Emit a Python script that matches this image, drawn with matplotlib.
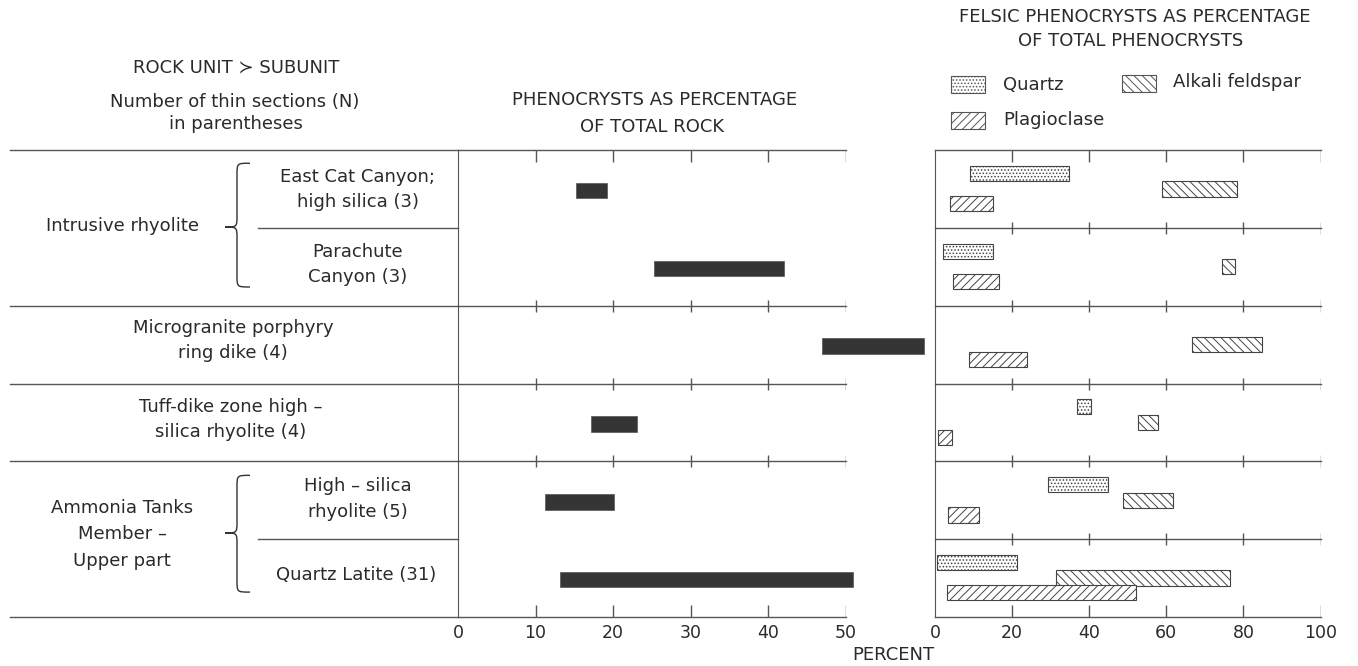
import numpy as np
import matplotlib
matplotlib.use("Agg")
import matplotlib.pyplot as plt
from matplotlib.patches import Rectangle, PathPatch
from matplotlib.path import Path

plt.rcParams['font.family'] = ['DejaVu Sans']
plt.rcParams['hatch.linewidth'] = 0.7

# filas (de arriba hacia abajo)
subunidades = [["East Cat Canyon;", "high silica (3)"],
               ["Parachute", "Canyon (3)"],
               ["Microgranite porphyry", "ring dike (4)"],
               ["Tuff-dike zone high \u2013", "silica rhyolite (4)"],
               ["High \u2013 silica", "rhyolite (5)"],
               ["Quartz Latite (31)"]]
unidades = ["Intrusive rhyolite", "Ammonia Tanks\nMember \u2013\nUpper part"]

# fenocristales como % de roca total (rango)
roca_min = [15.2, 25.2, 46.9, 17.1, 11.2, 13.1]
roca_max = [19.2, 42.0, 60.1, 23.1, 20.1, 50.9]

# fenocristales felsicos como % de fenocristales totales
cuarzo_min = [9.1, 2.2, np.nan, 36.8, 29.4, 0.4]
cuarzo_max = [34.8, 15.1, np.nan, 40.4, 44.8, 21.2]
alcali_min = [59.0, 74.5, 66.7, 52.7, 48.7, 31.5]
alcali_max = [78.3, 77.8, 84.8, 57.8, 61.7, 76.5]
plagio_min = [3.9, 4.7, 8.7, 0.9, 3.5, 3.2]
plagio_max = [15.1, 16.6, 23.8, 4.5, 11.4, 52.1]

ticks_roca = [0, 10, 20, 30, 40, 50]
ticks_felsic = [0, 20, 40, 60, 80, 100]

W, H = 1358, 666
fig = plt.figure(figsize=(W / 100, H / 100), dpi=100)

top_px, bot_px = 150, 617
b = (H - bot_px) / H
h = (bot_px - top_px) / H
row_px = (bot_px - top_px) / 6.0
gris = '#555555'
tinta = '#2a2a2a'
lw = 1.0
fs = 13

# capa de anotaciones en pixeles
ann = fig.add_axes([0, 0, 1, 1])
ann.set_xlim(0, W)
ann.set_ylim(H, 0)
ann.axis('off')
ann.patch.set_alpha(0)

ann.text(236, 67, "ROCK UNIT \u227B SUBUNIT", ha='center', va='center', fontsize=fs, color=tinta)
ann.text(235, 102, "Number of thin sections (N)", ha='center', va='center', fontsize=fs, color=tinta)
ann.text(236, 124, "in parentheses", ha='center', va='center', fontsize=fs, color=tinta)
ann.text(655, 100, "PHENOCRYSTS AS PERCENTAGE", ha='center', va='center', fontsize=fs, color=tinta)
ann.text(652, 127, "OF TOTAL ROCK", ha='center', va='center', fontsize=fs, color=tinta)
ann.text(1135, 17, "FELSIC PHENOCRYSTS AS PERCENTAGE", ha='center', va='center', fontsize=fs, color=tinta)
ann.text(1131, 41, "OF TOTAL PHENOCRYSTS", ha='center', va='center', fontsize=fs, color=tinta)
ann.text(893, 655, "PERCENT", ha='center', va='center', fontsize=fs, color=tinta)

# leyenda
leyenda = [(951, 76, '.....', "Quartz", 1003, 85),
           (1122, 75, '\\\\\\\\', "Alkali feldspar", 1173, 82),
           (951, 112, '////', "Plagioclase", 1003, 120)]
for x0, y0, hat, nombre, tx, ty in leyenda:
    ann.add_patch(Rectangle((x0, y0), 34, 17, facecolor='white', edgecolor=gris,
                            hatch=hat, linewidth=0.8))
    ann.text(tx, ty, nombre, ha='left', va='center', fontsize=fs, color=tinta)

# panel de etiquetas
axl = fig.add_axes([0, b, 458 / W, h])
axl.set_xlim(0, 458)
axl.set_ylim(6, 0)
axl.axis('off')
for r in [0, 2, 3, 4, 6]:
    axl.plot([10, 458], [r, r], color=gris, lw=lw, clip_on=False)
for r in [1, 5]:
    axl.plot([258, 458], [r, r], color=gris, lw=lw, clip_on=False)

pos_sub = [(358, [0.35, 0.67]), (358, [1.31, 1.63]), (233, [2.29, 2.61]),
           (231, [3.30, 3.62]), (358, [4.32, 4.65]), (356, [5.46])]
for (x, ys), lineas in zip(pos_sub, subunidades):
    for y, t in zip(ys, lineas):
        axl.text(x, y, t, ha='center', va='center', fontsize=fs, color=tinta)

axl.text(123, 0.98, unidades[0], ha='center', va='center', fontsize=fs, color=tinta)
for y, t in zip([4.60, 4.93, 5.28], unidades[1].split("\n")):
    axl.text(122, y, t, ha='center', va='center', fontsize=fs, color=tinta)


def llave(ax, y0, y1, ym, xl=225, xm=237, xr=250, d=0.15):
    verts = [(xr, y0), (xm, y0), (xm, y0), (xm, y0 + d),
             (xm, ym - d), (xm, ym), (xm, ym), (xl, ym),
             (xm, ym), (xm, ym), (xm, ym + d),
             (xm, y1 - d), (xm, y1), (xm, y1), (xr, y1)]
    codes = [Path.MOVETO, Path.CURVE4, Path.CURVE4, Path.CURVE4,
             Path.LINETO, Path.CURVE4, Path.CURVE4, Path.CURVE4,
             Path.CURVE4, Path.CURVE4, Path.CURVE4,
             Path.LINETO, Path.CURVE4, Path.CURVE4, Path.CURVE4]
    ax.add_patch(PathPatch(Path(verts, codes), facecolor='none', edgecolor='#333333', lw=1.0))


llave(axl, 0.17, 1.76, 0.99)
llave(axl, 4.18, 5.68, 4.92)


def marco(ax, filas, ticks, xmax):
    tk = 12 / row_px
    for r in filas:
        ax.plot([0, xmax], [r, r], color=gris, lw=lw, clip_on=False)
        if r == 0:
            ax.vlines(ticks, 0, tk, color=gris, lw=lw)
        elif r == 6:
            ax.vlines(ticks, 6 - tk, 6, color=gris, lw=lw)
        else:
            ax.vlines(ticks, r - tk / 2, r + tk / 2, color=gris, lw=lw)
    ax.set_ylim(6, 0)
    for s in ['top', 'right', 'bottom']:
        ax.spines[s].set_visible(False)
    ax.spines['left'].set_color(gris)
    ax.set_yticks([])
    ax.tick_params(axis='x', length=0, pad=5, labelsize=12.5, labelcolor=tinta)
    ax.patch.set_alpha(0)


# panel central
filas = np.arange(6)
axm = fig.add_axes([458 / W, b, (846 - 458) / W, h])
axm.set_xlim(0, 50)
marco(axm, [0, 2, 3, 4, 6], ticks_roca[1:], 50)
axm.set_xticks(ticks_roca)
axm.barh(filas + 0.52, np.array(roca_max) - np.array(roca_min), left=roca_min,
         height=0.2, color='#353535', edgecolor='#555555', linewidth=0.5, clip_on=False)

# panel derecho
axr = fig.add_axes([935 / W, b, (1320.5 - 935) / W, h])
axr.set_xlim(0, 100)
marco(axr, [0, 1, 2, 3, 4, 5, 6], ticks_felsic[1:], 100)
axr.set_xticks(ticks_felsic)
series = [(cuarzo_min, cuarzo_max, 0.30, '.....'),
          (alcali_min, alcali_max, 0.50, '\\\\\\\\'),
          (plagio_min, plagio_max, 0.69, '////')]
for lo, hi, off, hat in series:
    lo = np.array(lo)
    hi = np.array(hi)
    ok = ~np.isnan(lo)
    axr.barh(filas[ok] + off, (hi - lo)[ok], left=lo[ok], height=0.195,
             color='white', edgecolor='#444444', hatch=hat, linewidth=0.8)

fig.savefig("out.png", dpi=100)
